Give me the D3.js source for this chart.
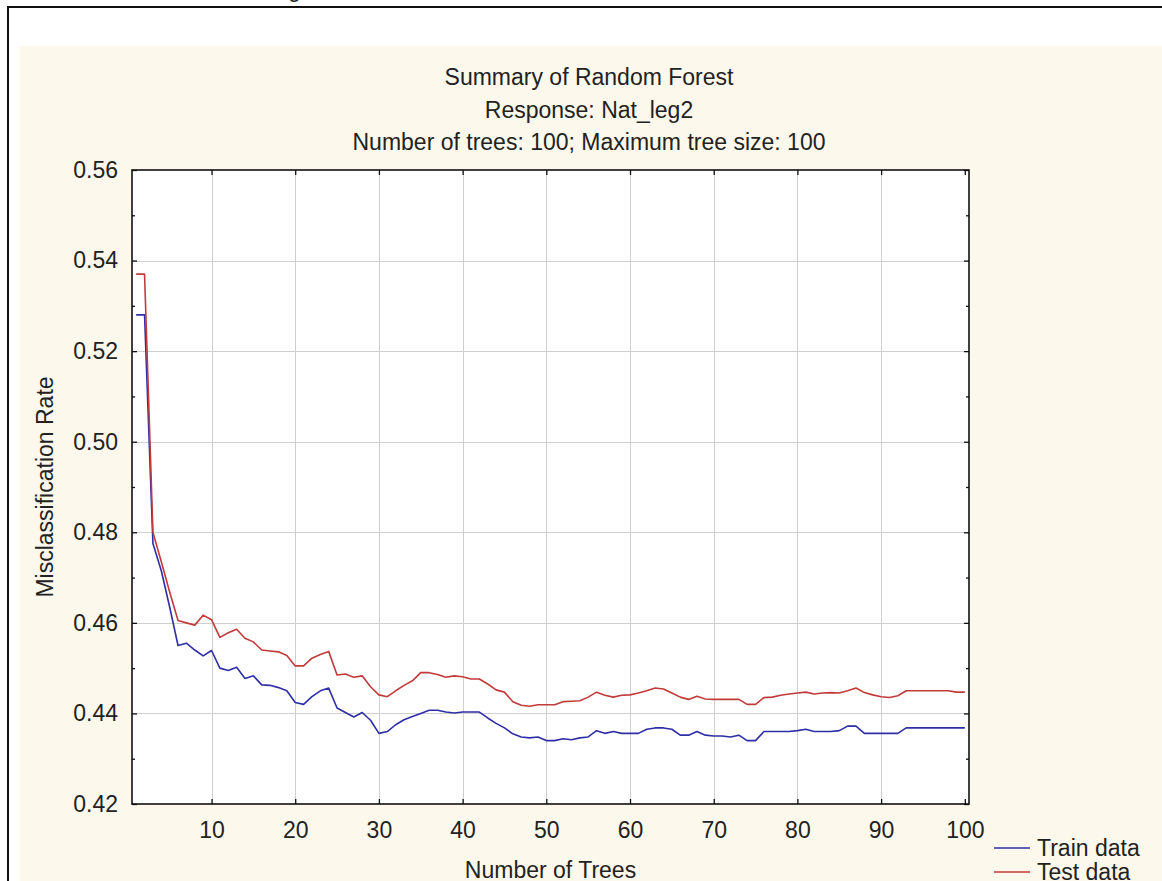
<!DOCTYPE html>
<html>
<head>
<meta charset="utf-8">
<script src="https://cdn.jsdelivr.net/npm/d3@7"></script>
<style>
  body { margin: 0; background: #fff; }
  svg text { font-family: "Liberation Sans", Arial, sans-serif; fill: #222; }
</style>
</head>
<body>
<svg id="chart" width="1162" height="881"></svg>
<script>
// values
const trees = d3.range(1, 101);
const trainRate = [
  0.528, 0.528, 0.4775, 0.4715, 0.4635, 0.455, 0.4555, 0.454, 0.4527, 0.4539,
  0.450, 0.4495, 0.4502, 0.4477, 0.4483, 0.4463, 0.4462, 0.4457, 0.445, 0.4424,
  0.442, 0.4437, 0.445, 0.4456, 0.4412, 0.4402, 0.4392, 0.4402, 0.4385, 0.4356,
  0.436, 0.4375, 0.4386, 0.4393, 0.440, 0.4407, 0.4407, 0.4403, 0.4401, 0.4403,
  0.4403, 0.4403, 0.439, 0.4378, 0.4368, 0.4355, 0.4348, 0.4346, 0.4348, 0.434,
  0.434, 0.4344, 0.4342, 0.4346, 0.4348, 0.4362, 0.4356, 0.436, 0.4356, 0.4356,
  0.4356, 0.4365, 0.4368, 0.4368, 0.4365, 0.4352, 0.4352, 0.436, 0.4352, 0.435,
  0.435, 0.4348, 0.4352, 0.434, 0.434, 0.436, 0.436, 0.436, 0.436, 0.4362,
  0.4365, 0.436, 0.436, 0.436, 0.4362, 0.4372, 0.4372, 0.4356, 0.4356, 0.4356,
  0.4356, 0.4356, 0.4368, 0.4368, 0.4368, 0.4368, 0.4368, 0.4368, 0.4368, 0.4368
];
const testRate = [
  0.537, 0.537, 0.480, 0.4735, 0.4668, 0.4605, 0.460, 0.4595, 0.4617, 0.4607,
  0.4568, 0.4578, 0.4586, 0.4566, 0.4558, 0.454, 0.4538, 0.4536, 0.4528, 0.4505,
  0.4505, 0.4522, 0.453, 0.4537, 0.4485, 0.4487, 0.448, 0.4483, 0.4459, 0.4441,
  0.4437, 0.445, 0.4462, 0.4472, 0.449, 0.449, 0.4486, 0.448, 0.4483, 0.4481,
  0.4476, 0.4476, 0.4465, 0.4452, 0.4447, 0.4426, 0.4418, 0.4416, 0.4419, 0.4419,
  0.4419, 0.4426, 0.4427, 0.4428, 0.4436, 0.4447, 0.444, 0.4436, 0.444, 0.4441,
  0.4445, 0.445, 0.4456, 0.4454, 0.4445, 0.4436, 0.4431, 0.4438, 0.4432, 0.4431,
  0.4431, 0.4431, 0.4431, 0.442, 0.442, 0.4435, 0.4436, 0.444, 0.4443, 0.4445,
  0.4447, 0.4443, 0.4445, 0.4446, 0.4445, 0.445, 0.4456, 0.4446, 0.4441, 0.4437,
  0.4435, 0.4439, 0.445, 0.445, 0.445, 0.445, 0.445, 0.445, 0.4447, 0.4447
];
const xTicks = [10, 20, 30, 40, 50, 60, 70, 80, 90, 100];
const yTicks = [0.42, 0.44, 0.46, 0.48, 0.50, 0.52, 0.54, 0.56];
const yMinorTicks = [0.43, 0.45, 0.47, 0.49, 0.51, 0.53, 0.55];
const titleLines = [
  "Summary of Random Forest",
  "Response: Nat_leg2",
  "Number of trees: 100; Maximum tree size: 100"
];
const series = [
  { name: "Train data", values: trainRate, color: "#2e2ea6" },
  { name: "Test data", values: testRate, color: "#c23a3a" }
];

const svg = d3.select("#chart");
const plot = { left: 132, right: 969, top: 170, bottom: 804 };

// outer frame + cream panel
svg.append("rect").attr("x", 20).attr("y", 46).attr("width", 1200).attr("height", 900)
  .attr("fill", "#fdf8ec");
svg.append("rect").attr("x", 8).attr("y", 7).attr("width", 1200).attr("height", 900)
  .attr("fill", "none").attr("stroke", "#111").attr("stroke-width", 2);
// descender of a caption cut off above the frame
svg.append("text").attr("x", 288).attr("y", -3).attr("font-size", 23).text("g");

const x = d3.scaleLinear().domain([0.5, 100.5]).range([plot.left, plot.right]);
const y = d3.scaleLinear().domain([0.42, 0.56]).range([plot.bottom, plot.top]);

svg.append("rect")
  .attr("x", plot.left).attr("y", plot.top)
  .attr("width", plot.right - plot.left).attr("height", plot.bottom - plot.top)
  .attr("fill", "#fff");

// grid
const grid = svg.append("g").attr("stroke", "#cfcfcf").attr("stroke-width", 1);
grid.selectAll("line.v").data(xTicks.filter(d => d < 100)).join("line")
  .attr("x1", d => Math.round(x(d)) + 0.5).attr("x2", d => Math.round(x(d)) + 0.5)
  .attr("y1", plot.top).attr("y2", plot.bottom);
grid.selectAll("line.h").data(yTicks.filter(d => d > 0.42 && d < 0.56)).join("line")
  .attr("class", "h")
  .attr("y1", d => Math.round(y(d)) + 0.5).attr("y2", d => Math.round(y(d)) + 0.5)
  .attr("x1", plot.left).attr("x2", plot.right);

// series
const line = d3.line().x((d, i) => x(trees[i])).y(d => y(d));
series.forEach(s => {
  svg.append("path").datum(s.values)
    .attr("fill", "none").attr("stroke", s.color).attr("stroke-width", 1.6)
    .attr("stroke-linejoin", "round").attr("d", line);
});

// axes, ticks pointing inward
function styleAxis(g) {
  g.select(".domain").remove();
  g.selectAll(".tick line").attr("stroke", "#111").attr("stroke-width", 1.3);
  g.selectAll(".tick text").attr("font-size", 23).attr("fill", "#222")
    .attr("font-family", "'Liberation Sans', Arial, sans-serif");
}
svg.append("g").attr("transform", `translate(${plot.left},0)`)
  .call(d3.axisLeft(y).tickValues(yTicks).tickSize(-5).tickPadding(14).tickFormat(d3.format(".2f")))
  .call(styleAxis);
svg.append("g").attr("transform", `translate(${plot.left},0)`)
  .call(d3.axisLeft(y).tickValues(yMinorTicks).tickSize(-3).tickFormat(""))
  .call(styleAxis);
svg.append("g").attr("transform", `translate(${plot.right},0)`)
  .call(d3.axisRight(y).tickValues(yTicks).tickSize(-5).tickFormat(""))
  .call(styleAxis);
svg.append("g").attr("transform", `translate(${plot.right},0)`)
  .call(d3.axisRight(y).tickValues(yMinorTicks).tickSize(-3).tickFormat(""))
  .call(styleAxis);
svg.append("g").attr("transform", `translate(0,${plot.bottom})`)
  .call(d3.axisBottom(x).tickValues(xTicks).tickSize(-5).tickPadding(18))
  .call(styleAxis);
svg.append("g").attr("transform", `translate(0,${plot.top})`)
  .call(d3.axisTop(x).tickValues(xTicks).tickSize(-5).tickFormat(""))
  .call(styleAxis);

// plot frame
svg.append("rect")
  .attr("x", plot.left).attr("y", plot.top)
  .attr("width", plot.right - plot.left).attr("height", plot.bottom - plot.top)
  .attr("fill", "none").attr("stroke", "#111").attr("stroke-width", 1.6);

// titles
svg.append("g").selectAll("text").data(titleLines).join("text")
  .attr("x", 589).attr("y", (d, i) => 85 + i * 32.5)
  .attr("text-anchor", "middle").attr("font-size", 23).text(d => d);

svg.append("text")
  .attr("transform", `translate(53,${(plot.top + plot.bottom) / 2}) rotate(-90)`)
  .attr("text-anchor", "middle").attr("font-size", 23).text("Misclassification Rate");
svg.append("text")
  .attr("x", (plot.left + plot.right) / 2).attr("y", 878)
  .attr("text-anchor", "middle").attr("font-size", 23).text("Number of Trees");

// legend
const legend = svg.append("g").selectAll("g").data(series).join("g")
  .attr("transform", (d, i) => `translate(994,${848 + i * 24})`);
legend.append("line").attr("x1", 0).attr("x2", 36)
  .attr("stroke", d => d.color).attr("stroke-width", 1.6);
legend.append("text").attr("x", 43).attr("y", 8).attr("font-size", 23).text(d => d.name);
</script>
</body>
</html>
